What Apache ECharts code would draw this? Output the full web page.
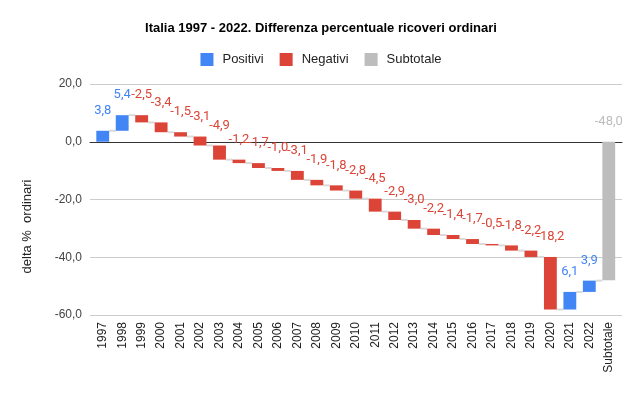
<!DOCTYPE html>
<html>
<head>
<meta charset="utf-8">
<script src="https://cdn.jsdelivr.net/npm/echarts@6/dist/echarts.min.js"></script>
<style>html,body{margin:0;padding:0;background:#fff;}#c{width:642px;height:397px;}</style>
</head>
<body>
<div id="c"></div>
<script>
const categories = ['1997','1998','1999','2000','2001','2002','2003','2004','2005','2006','2007','2008','2009','2010','2011','2012','2013','2014','2015','2016','2017','2018','2019','2020','2021','2022','Subtotale'];
const deltas = [3.8,5.4,-2.5,-3.4,-1.5,-3.1,-4.9,-1.2,-1.7,-1.0,-3.1,-1.9,-1.8,-2.8,-4.5,-2.9,-3.0,-2.2,-1.4,-1.7,-0.5,-1.8,-2.2,-18.2,6.1,3.9];
const subtotal = -48.0;
const yTicks = { min: -60, max: 20, interval: 20 };

const BLUE = '#4285F4', RED = '#DB4437', GRAY = '#BDBDBD';
const FONT = 'Arial, "Liberation Sans"';
const fmt = v => v.toFixed(1).replace('.', ',');

// build waterfall segments
const posData = [], negData = [], subData = [], conn = [];
let cum = 0;
deltas.forEach((d, i) => {
  const s = cum, e = cum + d;
  (d >= 0 ? posData : negData).push([i, s, e, d]);
  conn.push([i, e]);
  cum = e;
});
subData.push([categories.length - 1, 0, subtotal, subtotal]);

const BAR_FRAC = 0.66;
function makeRender(color) {
  return function (params, api) {
    const i = api.value(0), s = api.value(1), e = api.value(2), v = api.value(3);
    const p1 = api.coord([i, s]), p2 = api.coord([i, e]);
    const w = api.size([1, 0])[0] * BAR_FRAC;
    const top = Math.min(p1[1], p2[1]);
    const h = Math.max(Math.abs(p1[1] - p2[1]), 1);
    return {
      type: 'group',
      children: [
        { type: 'rect', shape: { x: p1[0] - w / 2, y: top, width: w, height: h }, style: { fill: color } },
        { type: 'text', x: p1[0], y: top - 20,
          style: { text: fmt(v), fill: color, font: '13px Roboto', align: 'center', verticalAlign: 'middle' } }
      ]
    };
  };
}

const chart = echarts.init(document.getElementById('c'), null, { renderer: 'canvas' });
chart.setOption({
  animation: false,
  title: {
    text: 'Italia 1997 - 2022. Differenza percentuale ricoveri ordinari',
    left: 'center', top: 17,
    textStyle: { fontFamily: FONT, fontSize: 13, fontWeight: 'bold', color: '#000' }
  },
  legend: {
    top: 48, left: 'center',
    data: ['Positivi', 'Negativi', 'Subtotale'],
    icon: 'rect', itemWidth: 13, itemHeight: 13, itemGap: 16,
    textStyle: { fontFamily: FONT, fontSize: 13, color: '#222', padding: [0, 0, 0, 4] }
  },
  grid: [
    { left: 90, right: 20, top: 84, bottom: 82 },
    { left: 93, right: 23.5, top: 84, bottom: 82 }
  ],
  xAxis: [
    {
      gridIndex: 0, type: 'value', min: 0, max: 1,
      axisLine: { show: true, onZero: true, lineStyle: { color: '#333', width: 1 } },
      axisTick: { show: false }, axisLabel: { show: false }, splitLine: { show: false }
    },
    {
      gridIndex: 1, type: 'category', data: categories,
      axisLine: { show: false }, axisTick: { show: false },
      axisLabel: { rotate: 90, interval: 0, margin: 7, fontFamily: FONT, fontSize: 12, color: '#222' }
    }
  ],
  yAxis: [
    {
      gridIndex: 0, type: 'value', min: yTicks.min, max: yTicks.max, interval: yTicks.interval,
      name: 'delta %  ordinari', nameLocation: 'middle', nameGap: 56, nameRotate: 90,
      nameTextStyle: { fontFamily: FONT, fontSize: 13, color: '#222', padding: [0, 54, 0, 0] },
      axisLine: { show: false }, axisTick: { show: false },
      axisLabel: { formatter: v => fmt(v), fontFamily: FONT, fontSize: 12, color: '#444', margin: 8 },
      splitLine: { lineStyle: { color: '#cccccc', width: 1 } }
    },
    {
      gridIndex: 1, type: 'value', min: yTicks.min, max: yTicks.max, interval: yTicks.interval,
      axisLine: { show: false }, axisTick: { show: false }, axisLabel: { show: false }, splitLine: { show: false }
    }
  ],
  series: [
    {
      name: 'conn', type: 'custom', data: conn, silent: true, z: 1,
      xAxisIndex: 1, yAxisIndex: 1,
      encode: { x: 0, y: 1 },
      renderItem: function (params, api) {
        const i = api.value(0), lvl = api.value(1);
        const a = api.coord([i, lvl]), b = api.coord([i + 1, lvl]);
        const w = api.size([1, 0])[0] * BAR_FRAC;
        return { type: 'line', shape: { x1: a[0] + w / 2, y1: a[1], x2: b[0] - w / 2, y2: b[1] }, style: { stroke: '#dadada', lineWidth: 2 } };
      }
    },
    {
      name: 'Positivi', type: 'custom', data: posData, z: 3, itemStyle: { color: BLUE },
      xAxisIndex: 1, yAxisIndex: 1,
      encode: { x: 0, y: [1, 2] }, renderItem: makeRender(BLUE)
    },
    {
      name: 'Negativi', type: 'custom', data: negData, z: 3, itemStyle: { color: RED },
      xAxisIndex: 1, yAxisIndex: 1,
      encode: { x: 0, y: [1, 2] }, renderItem: makeRender(RED)
    },
    {
      name: 'Subtotale', type: 'custom', data: subData, z: 3, itemStyle: { color: GRAY },
      xAxisIndex: 1, yAxisIndex: 1,
      encode: { x: 0, y: [1, 2] }, renderItem: makeRender(GRAY)
    }
  ]
});
</script>
</body>
</html>
